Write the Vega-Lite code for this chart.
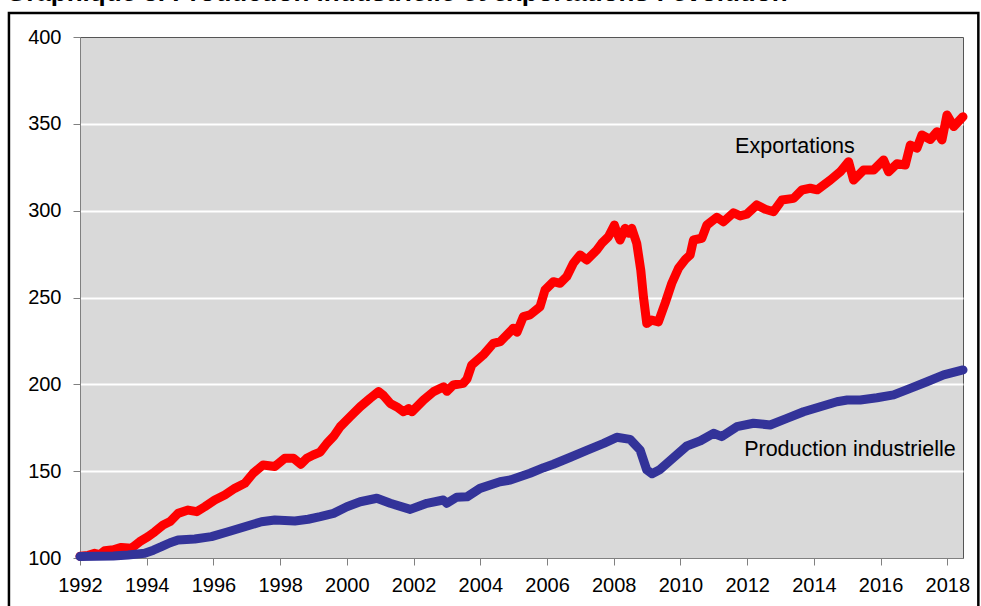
{
  "$schema": "https://vega.github.io/schema/vega-lite/v6.json",
  "width": 883,
  "height": 521,
  "autosize": {"type": "none"},
  "padding": {"left": 80, "top": 37, "right": 18, "bottom": 48},
  "background": "white",
  "title": {
    "text": "Graphique 3. Production industrielle et exportations : évolution",
    "anchor": "start",
    "frame": "group",
    "baseline": "alphabetic",
    "offset": -15,
    "dx": -74,
    "font": "Liberation Sans",
    "fontSize": 26,
    "fontWeight": "bold",
    "color": "black"
  },
  "config": {
    "view": {"fill": "#d9d9d9", "stroke": "#555555", "strokeWidth": 1},
    "font": "Liberation Sans"
  },
  "datasets": {
    "series": [
      {"s": "Exportations", "t": 1992.0, "v": 101},
      {"s": "Exportations", "t": 1992.25, "v": 101.5},
      {"s": "Exportations", "t": 1992.44, "v": 102.7},
      {"s": "Exportations", "t": 1992.6, "v": 102},
      {"s": "Exportations", "t": 1992.74, "v": 104.2},
      {"s": "Exportations", "t": 1993.0, "v": 104.7},
      {"s": "Exportations", "t": 1993.24, "v": 106.1},
      {"s": "Exportations", "t": 1993.54, "v": 105.6},
      {"s": "Exportations", "t": 1993.79, "v": 109.4},
      {"s": "Exportations", "t": 1994.04, "v": 112.3},
      {"s": "Exportations", "t": 1994.24, "v": 115.1},
      {"s": "Exportations", "t": 1994.49, "v": 119},
      {"s": "Exportations", "t": 1994.7, "v": 121},
      {"s": "Exportations", "t": 1994.94, "v": 125.7},
      {"s": "Exportations", "t": 1995.24, "v": 127.6},
      {"s": "Exportations", "t": 1995.5, "v": 126.7},
      {"s": "Exportations", "t": 1995.74, "v": 129.5},
      {"s": "Exportations", "t": 1996.04, "v": 133.4},
      {"s": "Exportations", "t": 1996.34, "v": 136.3},
      {"s": "Exportations", "t": 1996.64, "v": 140.1},
      {"s": "Exportations", "t": 1996.94, "v": 143},
      {"s": "Exportations", "t": 1997.19, "v": 148.8},
      {"s": "Exportations", "t": 1997.49, "v": 153.6},
      {"s": "Exportations", "t": 1997.84, "v": 152.7},
      {"s": "Exportations", "t": 1998.14, "v": 157.4},
      {"s": "Exportations", "t": 1998.4, "v": 157.4},
      {"s": "Exportations", "t": 1998.62, "v": 154},
      {"s": "Exportations", "t": 1998.8, "v": 157.4},
      {"s": "Exportations", "t": 1998.99, "v": 159.3},
      {"s": "Exportations", "t": 1999.2, "v": 161},
      {"s": "Exportations", "t": 1999.4, "v": 166},
      {"s": "Exportations", "t": 1999.6, "v": 170},
      {"s": "Exportations", "t": 1999.8, "v": 175.6},
      {"s": "Exportations", "t": 2000.1, "v": 181.4},
      {"s": "Exportations", "t": 2000.4, "v": 187.1},
      {"s": "Exportations", "t": 2000.7, "v": 192},
      {"s": "Exportations", "t": 2000.95, "v": 195.8},
      {"s": "Exportations", "t": 2001.1, "v": 193.5},
      {"s": "Exportations", "t": 2001.3, "v": 189},
      {"s": "Exportations", "t": 2001.5, "v": 187},
      {"s": "Exportations", "t": 2001.7, "v": 184.2},
      {"s": "Exportations", "t": 2001.85, "v": 186},
      {"s": "Exportations", "t": 2001.95, "v": 184.2},
      {"s": "Exportations", "t": 2002.3, "v": 191},
      {"s": "Exportations", "t": 2002.6, "v": 195.8},
      {"s": "Exportations", "t": 2002.9, "v": 198.6},
      {"s": "Exportations", "t": 2003.0, "v": 196},
      {"s": "Exportations", "t": 2003.19, "v": 199.6},
      {"s": "Exportations", "t": 2003.49, "v": 200.6},
      {"s": "Exportations", "t": 2003.6, "v": 203},
      {"s": "Exportations", "t": 2003.74, "v": 211},
      {"s": "Exportations", "t": 2004.09, "v": 216.9},
      {"s": "Exportations", "t": 2004.39, "v": 223.6},
      {"s": "Exportations", "t": 2004.6, "v": 224.6},
      {"s": "Exportations", "t": 2004.99, "v": 232.3},
      {"s": "Exportations", "t": 2005.1, "v": 230},
      {"s": "Exportations", "t": 2005.29, "v": 239},
      {"s": "Exportations", "t": 2005.49, "v": 240},
      {"s": "Exportations", "t": 2005.79, "v": 244.7},
      {"s": "Exportations", "t": 2005.94, "v": 254.3},
      {"s": "Exportations", "t": 2006.19, "v": 259.1},
      {"s": "Exportations", "t": 2006.39, "v": 258.2},
      {"s": "Exportations", "t": 2006.59, "v": 262},
      {"s": "Exportations", "t": 2006.79, "v": 269.7},
      {"s": "Exportations", "t": 2006.99, "v": 274.5},
      {"s": "Exportations", "t": 2007.19, "v": 271.6},
      {"s": "Exportations", "t": 2007.49, "v": 277.3},
      {"s": "Exportations", "t": 2007.64, "v": 281.2},
      {"s": "Exportations", "t": 2007.84, "v": 285},
      {"s": "Exportations", "t": 2008.02, "v": 291.7},
      {"s": "Exportations", "t": 2008.1, "v": 287},
      {"s": "Exportations", "t": 2008.19, "v": 283.1},
      {"s": "Exportations", "t": 2008.34, "v": 289.8},
      {"s": "Exportations", "t": 2008.45, "v": 287},
      {"s": "Exportations", "t": 2008.54, "v": 289.8},
      {"s": "Exportations", "t": 2008.69, "v": 281.2},
      {"s": "Exportations", "t": 2008.81, "v": 265.8},
      {"s": "Exportations", "t": 2008.89, "v": 250.5},
      {"s": "Exportations", "t": 2008.99, "v": 235.1},
      {"s": "Exportations", "t": 2009.14, "v": 237},
      {"s": "Exportations", "t": 2009.34, "v": 236},
      {"s": "Exportations", "t": 2009.54, "v": 246.7},
      {"s": "Exportations", "t": 2009.74, "v": 258.2},
      {"s": "Exportations", "t": 2009.94, "v": 266.8},
      {"s": "Exportations", "t": 2010.15, "v": 272},
      {"s": "Exportations", "t": 2010.29, "v": 274.5},
      {"s": "Exportations", "t": 2010.39, "v": 283.1},
      {"s": "Exportations", "t": 2010.64, "v": 284.1},
      {"s": "Exportations", "t": 2010.79, "v": 291.7},
      {"s": "Exportations", "t": 2011.09, "v": 296.2},
      {"s": "Exportations", "t": 2011.29, "v": 293.6},
      {"s": "Exportations", "t": 2011.59, "v": 298.8},
      {"s": "Exportations", "t": 2011.79, "v": 297},
      {"s": "Exportations", "t": 2011.99, "v": 298},
      {"s": "Exportations", "t": 2012.29, "v": 303.3},
      {"s": "Exportations", "t": 2012.54, "v": 300.8},
      {"s": "Exportations", "t": 2012.79, "v": 299.4},
      {"s": "Exportations", "t": 2013.04, "v": 306.1},
      {"s": "Exportations", "t": 2013.39, "v": 307.1},
      {"s": "Exportations", "t": 2013.64, "v": 311.9},
      {"s": "Exportations", "t": 2013.89, "v": 312.9},
      {"s": "Exportations", "t": 2014.1, "v": 312},
      {"s": "Exportations", "t": 2014.49, "v": 317.6},
      {"s": "Exportations", "t": 2014.79, "v": 322.4},
      {"s": "Exportations", "t": 2015.04, "v": 328.2},
      {"s": "Exportations", "t": 2015.19, "v": 317.6},
      {"s": "Exportations", "t": 2015.49, "v": 323.4},
      {"s": "Exportations", "t": 2015.79, "v": 323.4},
      {"s": "Exportations", "t": 2016.09, "v": 329.2},
      {"s": "Exportations", "t": 2016.24, "v": 322.4},
      {"s": "Exportations", "t": 2016.49, "v": 327},
      {"s": "Exportations", "t": 2016.74, "v": 326.3},
      {"s": "Exportations", "t": 2016.89, "v": 337.8},
      {"s": "Exportations", "t": 2017.09, "v": 336},
      {"s": "Exportations", "t": 2017.24, "v": 343.6},
      {"s": "Exportations", "t": 2017.49, "v": 341},
      {"s": "Exportations", "t": 2017.69, "v": 345.5},
      {"s": "Exportations", "t": 2017.84, "v": 340.7},
      {"s": "Exportations", "t": 2017.99, "v": 355.1},
      {"s": "Exportations", "t": 2018.19, "v": 348.4},
      {"s": "Exportations", "t": 2018.47, "v": 354.1},
      {"s": "Production industrielle", "t": 1992.0, "v": 100.8},
      {"s": "Production industrielle", "t": 1992.5, "v": 101},
      {"s": "Production industrielle", "t": 1993.0, "v": 101.2},
      {"s": "Production industrielle", "t": 1993.44, "v": 101.7},
      {"s": "Production industrielle", "t": 1993.94, "v": 102.7},
      {"s": "Production industrielle", "t": 1994.2, "v": 104.5},
      {"s": "Production industrielle", "t": 1994.44, "v": 106.5},
      {"s": "Production industrielle", "t": 1994.7, "v": 108.8},
      {"s": "Production industrielle", "t": 1994.94, "v": 110.4},
      {"s": "Production industrielle", "t": 1995.44, "v": 110.9},
      {"s": "Production industrielle", "t": 1995.94, "v": 112.3},
      {"s": "Production industrielle", "t": 1996.44, "v": 115.1},
      {"s": "Production industrielle", "t": 1996.94, "v": 118},
      {"s": "Production industrielle", "t": 1997.44, "v": 120.9},
      {"s": "Production industrielle", "t": 1997.84, "v": 121.9},
      {"s": "Production industrielle", "t": 1998.44, "v": 121.3},
      {"s": "Production industrielle", "t": 1998.84, "v": 122.3},
      {"s": "Production industrielle", "t": 1999.2, "v": 123.8},
      {"s": "Production industrielle", "t": 1999.6, "v": 125.7},
      {"s": "Production industrielle", "t": 2000.0, "v": 129.5},
      {"s": "Production industrielle", "t": 2000.4, "v": 132.4},
      {"s": "Production industrielle", "t": 2000.9, "v": 134.4},
      {"s": "Production industrielle", "t": 2001.3, "v": 131.5},
      {"s": "Production industrielle", "t": 2001.9, "v": 128},
      {"s": "Production industrielle", "t": 2002.4, "v": 131.5},
      {"s": "Production industrielle", "t": 2002.89, "v": 133.4},
      {"s": "Production industrielle", "t": 2003.0, "v": 131.5},
      {"s": "Production industrielle", "t": 2003.29, "v": 135},
      {"s": "Production industrielle", "t": 2003.6, "v": 135.2},
      {"s": "Production industrielle", "t": 2003.99, "v": 140.1},
      {"s": "Production industrielle", "t": 2004.59, "v": 143.9},
      {"s": "Production industrielle", "t": 2004.9, "v": 144.9},
      {"s": "Production industrielle", "t": 2005.49, "v": 148.8},
      {"s": "Production industrielle", "t": 2005.9, "v": 152},
      {"s": "Production industrielle", "t": 2006.19, "v": 154},
      {"s": "Production industrielle", "t": 2006.7, "v": 158},
      {"s": "Production industrielle", "t": 2007.19, "v": 162},
      {"s": "Production industrielle", "t": 2007.7, "v": 166},
      {"s": "Production industrielle", "t": 2008.09, "v": 169.5},
      {"s": "Production industrielle", "t": 2008.49, "v": 168.3},
      {"s": "Production industrielle", "t": 2008.79, "v": 162.2},
      {"s": "Production industrielle", "t": 2008.99, "v": 150.7},
      {"s": "Production industrielle", "t": 2009.15, "v": 148.5},
      {"s": "Production industrielle", "t": 2009.39, "v": 151},
      {"s": "Production industrielle", "t": 2009.8, "v": 158},
      {"s": "Production industrielle", "t": 2010.19, "v": 164.5},
      {"s": "Production industrielle", "t": 2010.6, "v": 167.5},
      {"s": "Production industrielle", "t": 2010.99, "v": 171.8},
      {"s": "Production industrielle", "t": 2011.24, "v": 169.9},
      {"s": "Production industrielle", "t": 2011.69, "v": 175.6},
      {"s": "Production industrielle", "t": 2012.19, "v": 177.6},
      {"s": "Production industrielle", "t": 2012.69, "v": 176.6},
      {"s": "Production industrielle", "t": 2013.19, "v": 180.4},
      {"s": "Production industrielle", "t": 2013.69, "v": 184.2},
      {"s": "Production industrielle", "t": 2014.19, "v": 187.1},
      {"s": "Production industrielle", "t": 2014.69, "v": 190},
      {"s": "Production industrielle", "t": 2015.0, "v": 191},
      {"s": "Production industrielle", "t": 2015.39, "v": 191},
      {"s": "Production industrielle", "t": 2015.89, "v": 192.3},
      {"s": "Production industrielle", "t": 2016.39, "v": 193.9},
      {"s": "Production industrielle", "t": 2016.89, "v": 197.7},
      {"s": "Production industrielle", "t": 2017.39, "v": 201.5},
      {"s": "Production industrielle", "t": 2017.89, "v": 205.4},
      {"s": "Production industrielle", "t": 2018.47, "v": 208.3}
    ],
    "labels": [
      {"label": "Exportations", "t": 2013.43, "v": 336.7},
      {"label": "Production industrielle", "t": 2015.08, "v": 162.2}
    ]
  },
  "layer": [
    {
      "data": {"name": "series"},
      "mark": {"type": "line", "strokeWidth": 9, "strokeCap": "round", "strokeJoin": "round"},
      "encoding": {
        "x": {
          "field": "t", "type": "quantitative",
          "scale": {"domain": [1992, 2018.47], "nice": false, "zero": false},
          "axis": {
            "title": null,
            "values": [1992, 1993, 1994, 1995, 1996, 1997, 1998, 1999, 2000, 2001, 2002, 2003, 2004, 2005, 2006, 2007, 2008, 2009, 2010, 2011, 2012, 2013, 2014, 2015, 2016, 2017, 2018],
            "format": "d",
            "labelExpr": "datum.value % 2 == 0 ? datum.label : ''",
            "labelFlush": false,
            "labelOverlap": false,
            "labelFont": "Liberation Sans",
            "labelFontSize": 20,
            "labelColor": "black",
            "labelPadding": 10,
            "tickSize": 7,
            "tickColor": "#808080",
            "domainColor": "#808080",
            "grid": false
          }
        },
        "y": {
          "field": "v", "type": "quantitative",
          "scale": {"domain": [100, 400], "nice": false, "zero": false},
          "axis": {
            "title": null,
            "values": [100, 150, 200, 250, 300, 350, 400],
            "labelFont": "Liberation Sans",
            "labelFontSize": 20,
            "labelColor": "black",
            "labelPadding": 12,
            "tickSize": 7,
            "tickColor": "#808080",
            "domainColor": "#808080",
            "grid": true,
            "gridWidth": 2,
            "gridColor": {"condition": {"test": "datum.value == 100 || datum.value == 400", "value": "transparent"}, "value": "#ffffff"}
          }
        },
        "color": {
          "field": "s", "type": "nominal",
          "scale": {"domain": ["Exportations", "Production industrielle"], "range": ["#ff0000", "#333399"]},
          "legend": null
        }
      }
    },
    {
      "data": {"name": "labels"},
      "mark": {"type": "text", "font": "Liberation Sans", "fontSize": 21.5, "align": "center", "baseline": "middle", "color": "black"},
      "encoding": {
        "x": {"field": "t", "type": "quantitative"},
        "y": {"field": "v", "type": "quantitative"},
        "text": {"field": "label"}
      }
    },
    {
      "data": {"values": [{}]},
      "mark": {"type": "rect", "fill": "transparent", "stroke": "black", "strokeWidth": 2.5, "clip": false},
      "encoding": {
        "x": {"datum": 1989.87, "type": "quantitative"},
        "x2": {"datum": 2018.93},
        "y": {"datum": 413.8, "type": "quantitative"},
        "y2": {"datum": 60}
      }
    }
  ]
}
